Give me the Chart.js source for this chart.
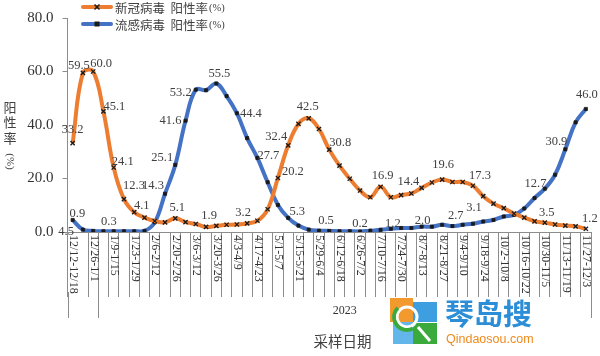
<!DOCTYPE html>
<html><head><meta charset="utf-8">
<script src="https://cdn.jsdelivr.net/npm/chart.js@4"></script>
<style>html,body{margin:0;padding:0;background:#fff;}</style>
</head><body>
<canvas id="c" width="600" height="356"></canvas>
<script>
const weeks = ["12/12-12/18","12/19-12/25","12/26-1/1","1/2-1/8","1/9-1/15","1/16-1/22","1/23-1/29","1/30-2/5","2/6-2/12","2/13-2/19","2/20-2/26","2/27-3/5","3/6-3/12","3/13-3/19","3/20-3/26","3/27-4/2","4/3-4/9","4/10-4/16","4/17-4/23","4/24-4/30","5/1-5/7","5/8-5/14","5/15-5/21","5/22-5/28","5/29-6/4","6/5-6/11","6/12-6/18","6/19-6/25","6/26-7/2","7/3-7/9","7/10-7/16","7/17-7/23","7/24-7/30","7/31-8/6","8/7-8/13","8/14-8/20","8/21-8/27","8/28-9/3","9/4-9/10","9/11-9/17","9/18-9/24","9/25-10/1","10/2-10/8","10/9-10/15","10/16-10/22","10/23-10/29","10/30-11/5","11/6-11/12","11/13-11/19","11/20-11/26","11/27-12/3"];
const covidRate = [33.2,59.5,60.0,45.1,24.1,12.3,7.4,5.4,4.1,3.6,
                   5.1,3.7,3.0,1.9,2.3,2.7,2.8,3.2,4.2,8.5,
                   20.2,32.4,40.4,42.5,38.5,30.8,24.8,19.9,15.5,13.0,
                   16.9,13.0,13.8,14.4,16.5,18.5,19.6,18.7,18.7,17.3,
                   13.4,10.6,8.9,6.9,5.4,4.0,3.5,2.8,2.4,2.1,
                   1.2];
const fluRate = [4.5,0.9,0.4,0.3,0.3,0.3,0.3,0.4,3.6,14.3,
                 25.1,41.6,53.2,53.0,55.5,50.8,44.4,35.1,27.7,18.6,
                 10.1,5.3,2.4,0.9,0.5,0.4,0.3,0.3,0.2,0.5,
                 0.8,1.2,1.5,1.5,2.0,2.0,2.7,2.2,2.7,3.1,
                 3.9,4.5,5.8,6.4,8.8,12.7,16.2,21.4,30.9,41.0,
                 46.0];
const yTicks = [0,20,40,60,80];
const seriesNames = ["新冠病毒  阳性率","流感病毒  阳性率"];
const unitText = "(%)";
const yearGroups = [{from:0,to:3,label:""},{from:3,to:51,label:"2023"}];
const xTitle = "采样日期";
const yTitleChars = ["阳","性","率"];
// which points carry a value label: [series, index]
const labelPoints = [[0,0],[0,1],[0,2],[0,3],[0,4],[0,5],[0,8],[0,10],[0,13],[0,17],[0,20],[0,21],[0,23],[0,25],[0,30],[0,33],[0,36],[0,39],[0,46],[0,50],
  [1,0],[1,1],[1,3],[1,9],[1,10],[1,11],[1,12],[1,14],[1,16],[1,18],[1,21],[1,24],[1,28],[1,31],[1,34],[1,38],[1,39],[1,45],[1,48],[1,50]];
// label offsets (style, px) in the same order
const labelOffsets = [[0,-13],[-4,-7],[8,-8],[11,-5],[9,-6],[10,-13],[-13,-15],[2,-11],[3,-11],[-4,-11],[15,-6],[-12,-9],[-1,-12],[11,-7],[2,-11],[-3,-12],[1,-15],[7,-10],[2,-10],[4,-10],
  [-6.5,12],[-5.5,-16],[5.5,-9],[-12,-8],[-13,-7],[-15,0],[-15,3],[3,-10],[14,0],[11,-2],[9,-6],[7,-10],[0,-8],[2,-5],[1,-6],[-7,-9],[1,-16],[1,-14],[-9,-8],[1,-14]];

const ORANGE = '#ED7D31', BLUE = '#4472C4', AXIS = '#8c8c8c', TXT = '#404040';

const deco = {
  id: 'deco',
  afterDatasetsDraw(chart) {
    const ctx = chart.ctx;
    const xs = chart.scales.x, ys = chart.scales.y;
    ctx.save();
    // value labels
    ctx.font = "12.5px 'Liberation Serif'";
    ctx.fillStyle = TXT;
    ctx.textAlign = 'center';
    ctx.textBaseline = 'middle';
    labelPoints.forEach((p, k) => {
      const arr = p[0] === 0 ? covidRate : fluRate;
      const v = arr[p[1]];
      const px = xs.getPixelForValue(p[1]);
      const py = ys.getPixelForValue(v);
      const o = labelOffsets[k];
      ctx.fillText(v.toFixed(1), px + o[0], py + o[1]);
    });
    ctx.restore();
  },
  afterDraw(chart) {
    const ctx = chart.ctx;
    const xs = chart.scales.x, ys = chart.scales.y;
    const area = chart.chartArea;
    ctx.save();
    // x tick labels (every second week), reading downward
    ctx.font = "12px 'Liberation Serif'";
    ctx.fillStyle = '#333';
    ctx.textAlign = 'left';
    ctx.textBaseline = 'middle';
    weeks.forEach((w, i) => {
      if (i % 2 !== 0) return;
      const x = xs.getPixelForValue(i);
      ctx.save();
      ctx.translate(x + 0.5, area.bottom + 3);
      ctx.rotate(Math.PI / 2);
      ctx.fillText(w, 0, 0);
      ctx.restore();
    });
    // group separators
    const step = xs.getPixelForValue(1) - xs.getPixelForValue(0);
    const bx = i => xs.getPixelForValue(0) - step / 2 + i * step;
    ctx.strokeStyle = AXIS;
    ctx.lineWidth = 1;
    const edges = [0, 3, 51];
    edges.forEach(i => {
      const x = Math.round(bx(i)) + 0.5;
      ctx.beginPath();
      ctx.moveTo(x, area.bottom + 60);
      ctx.lineTo(x, area.bottom + 86);
      ctx.stroke();
    });
    ctx.font = "12px 'Liberation Serif'";
    ctx.fillStyle = '#333';
    ctx.textAlign = 'center';
    yearGroups.forEach(g => {
      if (!g.label) return;
      ctx.fillText(g.label, (bx(g.from) + bx(g.to)) / 2, 311);
    });
    // axis titles
    ctx.font = "14.5px 'Noto Sans CJK SC'";
    ctx.fillStyle = TXT;
    ctx.fillText(xTitle, 342.5, 341);
    ctx.font = "13px 'Noto Sans CJK SC'";
    yTitleChars.forEach((c, k) => ctx.fillText(c, 10, 107 + k * 15.5));
    ctx.save();
    ctx.translate(10, 161.5);
    ctx.rotate(Math.PI / 2);
    ctx.font = "11px 'Liberation Serif'";
    ctx.fillText(unitText, 0, 0);
    ctx.restore();
    // legend
    const rows = [7, 24];
    chart.data.datasets.forEach((ds, k) => {
      const y = rows[k];
      ctx.strokeStyle = ds.borderColor;
      ctx.lineWidth = 4;
      ctx.lineCap = 'round';
      ctx.beginPath(); ctx.moveTo(83, y); ctx.lineTo(111, y); ctx.stroke();
      ctx.lineCap = 'butt';
      if (k === 0) {
        ctx.strokeStyle = '#1a1a1a'; ctx.lineWidth = 1.5;
        ctx.beginPath(); ctx.moveTo(94.5, y - 2.5); ctx.lineTo(99.5, y + 2.5);
        ctx.moveTo(99.5, y - 2.5); ctx.lineTo(94.5, y + 2.5); ctx.stroke();
      } else {
        ctx.fillStyle = '#1a1a1a'; ctx.fillRect(94.5, y - 2.5, 5, 5);
      }
      ctx.font = "12.5px 'Noto Sans CJK SC'";
      ctx.fillStyle = TXT;
      ctx.textAlign = 'left';
      ctx.textBaseline = 'middle';
      ctx.fillText(seriesNames[k], 115, y + 1);
      const w = ctx.measureText(seriesNames[k]).width;
      ctx.font = "10.5px 'Liberation Serif'";
      ctx.fillText(unitText, 115 + w + 1, y + 1);
    });
    // watermark logo
    ctx.fillStyle = '#F29A2E'; ctx.fillRect(390, 298, 23, 24);
    ctx.fillStyle = '#3D9FE0'; ctx.fillRect(413, 302, 24, 20);
    ctx.fillStyle = '#62B6EA'; ctx.fillRect(393, 322, 20, 22);
    ctx.fillStyle = '#3BAA3C'; ctx.fillRect(413, 323, 24, 21);
    ctx.strokeStyle = '#ffffff'; ctx.lineWidth = 3;
    ctx.beginPath(); ctx.arc(407, 317, 10, 0, Math.PI * 2); ctx.stroke();
    ctx.strokeStyle = '#3BAA3C'; ctx.lineWidth = 4;
    ctx.beginPath(); ctx.arc(407, 317, 13, Math.PI * 0.35, Math.PI * 1.25); ctx.stroke();
    ctx.strokeStyle = '#ffffff'; ctx.lineWidth = 3;
    ctx.beginPath(); ctx.moveTo(418, 327); ctx.lineTo(430, 341); ctx.stroke();
    ctx.font = "bold 29px 'Noto Sans CJK SC'";
    ctx.fillStyle = '#2B8ED6';
    ctx.textAlign = 'left';
    ctx.textBaseline = 'middle';
    ctx.fillText('琴岛搜', 445, 314);
    ctx.font = "12.5px 'Liberation Sans'";
    ctx.fillStyle = '#F08A1C';
    ctx.fillText('Qindaosou.com', 446, 340);
    ctx.restore();
  }
};

new Chart(document.getElementById('c'), {
  type: 'line',
  data: {
    labels: weeks,
    datasets: [
      { label: seriesNames[0], data: covidRate, borderColor: ORANGE, backgroundColor: ORANGE, borderWidth: 4, tension: 0.4,
        pointStyle: 'crossRot', pointRadius: 3, pointBorderColor: '#1a1a1a', pointBorderWidth: 1.3, pointBackgroundColor: '#1a1a1a' },
      { label: seriesNames[1], data: fluRate, borderColor: BLUE, backgroundColor: BLUE, borderWidth: 4, tension: 0.4,
        pointStyle: 'rect', pointRadius: 2.2, pointBorderColor: '#1a1a1a', pointBorderWidth: 0.8, pointBackgroundColor: '#1a1a1a' }
    ]
  },
  options: {
    responsive: false,
    devicePixelRatio: 1,
    animation: false,
    layout: { padding: { top: 14, right: 9, left: 0, bottom: 0 } },
    plugins: { legend: { display: false }, tooltip: { enabled: false } },
    scales: {
      x: {
        type: 'category', offset: true,
        grid: { display: true, drawOnChartArea: false, drawTicks: true, tickLength: 65, offset: true,
                color: c => (c.index === 1 ? 'rgba(0,0,0,0)' : AXIS), lineWidth: 1 },
        border: { display: true, color: AXIS, width: 1 },
        ticks: { display: false },
        afterFit: s => { s.height = 124; }
      },
      y: {
        min: 0, max: 80,
        afterBuildTicks: s => { s.ticks = yTicks.map(v => ({ value: v })); },
        ticks: { callback: v => Number(v).toFixed(1), font: { family: 'Liberation Serif', size: 15 }, color: '#333', padding: 9 },
        grid: { display: true, drawOnChartArea: false, drawTicks: true, tickLength: 5, color: AXIS },
        border: { display: true, color: AXIS, width: 1 },
        afterFit: s => { s.width = 67.5; }
      }
    }
  },
  plugins: [deco]
});
</script>
</body></html>
